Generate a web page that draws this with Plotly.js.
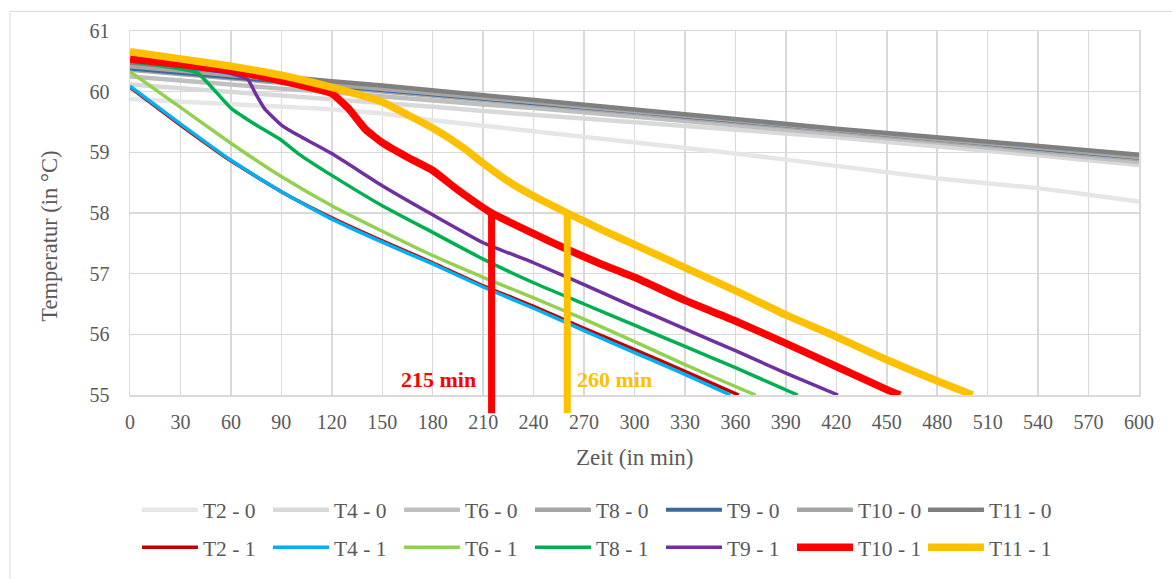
<!DOCTYPE html>
<html>
<head>
<meta charset="utf-8">
<script src="https://cdn.plot.ly/plotly-3.0.1.min.js"></script>
<style>html,body{margin:0;padding:0;background:#fff;}#chart{width:1172px;height:579px;}</style>
</head>
<body>
<div id="chart"></div>
<script>
// ---- data (time in min, temperature in °C) ----
const timeBase = [0,30,60,90,120,150,180,210,240,270,300,330,360,390,420,450,480,510,540,570,600];
const T2_0  = [59.88,59.84,59.80,59.76,59.71,59.64,59.53,59.44,59.35,59.25,59.16,59.07,58.98,58.88,58.78,58.67,58.57,58.49,58.41,58.30,58.19];
const T4_0  = [60.12,60.06,60.00,59.94,59.88,59.81,59.75,59.68,59.62,59.55,59.49,59.43,59.37,59.31,59.25,59.17,59.10,59.02,58.95,58.87,58.79];
const T6_0  = [60.25,60.18,60.12,60.05,59.99,59.92,59.86,59.79,59.73,59.66,59.59,59.52,59.45,59.38,59.31,59.23,59.16,59.08,59.00,58.92,58.84];
const T8_0  = [60.36,60.29,60.22,60.15,60.08,60.01,59.94,59.87,59.80,59.72,59.65,59.57,59.50,59.42,59.35,59.27,59.20,59.12,59.04,58.96,58.89];
const T9_0  = [60.38,60.31,60.24,60.17,60.10,60.03,59.96,59.89,59.82,59.74,59.67,59.59,59.52,59.44,59.37,59.29,59.22,59.14,59.06,58.98,58.91];
const T10_0 = [60.42,60.35,60.27,60.20,60.12,60.05,59.97,59.90,59.83,59.75,59.68,59.60,59.53,59.45,59.37,59.30,59.22,59.15,59.07,59.00,58.92];
const T11_0 = [60.48,60.40,60.33,60.25,60.17,60.10,60.02,59.94,59.86,59.79,59.71,59.63,59.55,59.47,59.39,59.32,59.25,59.17,59.10,59.03,58.96];

const T2_1_t  = [0,30,60,90,120,150,180,210,240,270,300,330,362];
const T2_1    = [60.07,59.45,58.86,58.35,57.92,57.54,57.18,56.80,56.46,56.10,55.75,55.39,55.00];
const T4_1_t  = [0,30,60,90,120,150,180,210,240,270,300,330,357];
const T4_1    = [60.09,59.47,58.87,58.35,57.90,57.52,57.16,56.78,56.43,56.06,55.70,55.34,55.00];
const T6_1_t  = [0,30,60,90,120,150,180,210,240,270,300,330,360,372];
const T6_1    = [60.33,59.74,59.15,58.60,58.12,57.70,57.30,56.94,56.60,56.25,55.88,55.50,55.14,55.00];
const T8_1_t  = [0,20,40,50,60,75,90,100,120,150,180,210,240,270,300,330,360,397];
const T8_1    = [60.50,60.42,60.31,60.03,59.73,59.45,59.20,58.98,58.62,58.12,57.68,57.24,56.85,56.50,56.15,55.80,55.45,55.00];
const T9_1_t  = [0,30,60,70,75,80,90,100,120,150,180,210,240,270,300,330,360,390,421];
const T9_1    = [60.52,60.42,60.30,60.20,59.95,59.72,59.45,59.28,58.98,58.45,57.97,57.51,57.18,56.82,56.45,56.09,55.73,55.36,55.00];
const T10_1_t = [0,30,60,90,110,120,130,140,150,165,180,195,215,240,260,280,300,330,360,390,420,450,458];
const T10_1   = [60.54,60.45,60.35,60.18,60.05,59.97,59.72,59.38,59.16,58.92,58.70,58.38,58.00,57.66,57.40,57.16,56.94,56.56,56.22,55.85,55.47,55.09,55.00];
const T11_1_t = [0,30,60,90,120,150,165,180,198,210,225,240,260,280,300,330,360,390,420,450,480,501];
const T11_1   = [60.66,60.54,60.42,60.27,60.07,59.83,59.62,59.40,59.08,58.82,58.52,58.28,58.00,57.73,57.48,57.10,56.72,56.32,55.96,55.58,55.23,55.00];

const markerTimes  = [215, 260];
const markerTemps  = [58, 58];
const markerLabels = ["215 min", "260 min"];

const xTicks = [0,30,60,90,120,150,180,210,240,270,300,330,360,390,420,450,480,510,540,570,600];
const yTicks = [55,56,57,58,59,60,61];

// ---- styles ----
const FONT = "Liberation Serif, Times New Roman, serif";
const GREY_TXT = "#595959";
const GRID = "#d9d9d9";
const markerColors = ["#ff0000", "#ffc000"];

function tr(name, x, y, color, width, legend, smooth) {
  const line = {color: color, width: width};
  if (smooth) { line.shape = "spline"; line.smoothing = 0.45; }
  return {type: "scatter", mode: "lines", name: name, x: x, y: y,
          line: line, legend: legend, hoverinfo: "skip"};
}

const traces = [
  tr("T2 - 0",  timeBase, T2_0,  "#e6e6e6", 4.5, "legend"),
  tr("T4 - 0",  timeBase, T4_0,  "#d9d9d9", 4.5, "legend"),
  tr("T6 - 0",  timeBase, T6_0,  "#bfbfbf", 4.5, "legend"),
  tr("T8 - 0",  timeBase, T8_0,  "#a6a6a6", 4.5, "legend"),
  tr("T9 - 0",  timeBase, T9_0,  "#3b6a9c", 4.0, "legend"),
  tr("T10 - 0", timeBase, T10_0, "#a5a5a5", 4.5, "legend"),
  tr("T11 - 0", timeBase, T11_0, "#7f7f7f", 4.5, "legend"),
  tr("T2 - 1",  T2_1_t,  T2_1,  "#c00000", 3.5, "legend2", true),
  tr("T4 - 1",  T4_1_t,  T4_1,  "#00b0f0", 3.5, "legend2", true),
  tr("T6 - 1",  T6_1_t,  T6_1,  "#92d050", 3.5, "legend2", true),
  tr("T8 - 1",  T8_1_t,  T8_1,  "#00b050", 3.5, "legend2", true),
  tr("T9 - 1",  T9_1_t,  T9_1,  "#7030a0", 3.5, "legend2", true),
  tr("T10 - 1", T10_1_t, T10_1, "#ff0000", 7.5, "legend2", true),
  tr("T11 - 1", T11_1_t, T11_1, "#ffc000", 7.5, "legend2", true)
];

const shapes = [
  // outer chart-area frame
  {type: "rect", xref: "paper", yref: "paper", x0: -0.119, x1: 1.2, y0: -0.6, y1: 1.054,
   line: {color: "#d9d9d9", width: 1}, layer: "below"}
];
const annotations = [
  {xref: "paper", yref: "paper", x: 0.5, y: -0.171, text: "Zeit (in min)", showarrow: false,
   xanchor: "center", yanchor: "middle", font: {family: FONT, size: 23, color: GREY_TXT}},
  {xref: "paper", yref: "paper", x: -0.0793, y: 0.4375, text: "Temperatur (in °C)", showarrow: false,
   textangle: -90, xanchor: "center", yanchor: "middle", font: {family: FONT, size: 22.5, color: GREY_TXT}}
];
markerTimes.forEach((t, i) => {
  shapes.push({type: "line", xref: "x", yref: "y", x0: t, x1: t, y0: yTicks[0], y1: markerTemps[i],
               line: {color: markerColors[i], width: 7}, layer: "above"});
  shapes.push({type: "line", xref: "x", yref: "y domain", x0: t, x1: t, y0: -0.05, y1: 0,
               line: {color: markerColors[i], width: 7}, layer: "above"});
  annotations.push({xref: "x", yref: "y", x: i === 0 ? t - 8 : t + 4.5, y: 55.26,
                    xanchor: i === 0 ? "right" : "left", yanchor: "middle",
                    text: markerLabels[i], showarrow: false,
                    font: {family: FONT, size: 22, color: markerColors[i], weight: "bold"}});
});

const legendBase = {orientation: "h", xref: "paper", yref: "paper", x: 0.0069, xanchor: "left",
  yanchor: "middle", font: {family: FONT, size: 21.5, color: GREY_TXT}, bgcolor: "rgba(0,0,0,0)",
  entrywidth: 60, entrywidthmode: "pixels", itemwidth: 56, traceorder: "normal"};

const layout = {
  width: 1172, height: 579,
  margin: {l: 130, r: 33, t: 31, b: 180, pad: 0},
  paper_bgcolor: "#ffffff", plot_bgcolor: "#ffffff",
  showlegend: true,
  legend: Object.assign({}, legendBase, {y: -0.3154}),
  legend2: Object.assign({}, legendBase, {y: -0.418}),
  xaxis: {range: [0, 600], tickvals: xTicks, ticktext: xTicks.map(String), showgrid: true,
          gridcolor: GRID, gridwidth: 1.5, zeroline: false, showline: true, linecolor: GRID,
          linewidth: 1.5, mirror: true, ticks: "", ticklabelstandoff: 8,
          tickfont: {family: FONT, size: 20, color: GREY_TXT}, fixedrange: true},
  yaxis: {range: [55, 61], tickvals: yTicks, ticktext: yTicks.map(String), showgrid: true,
          gridcolor: GRID, gridwidth: 1.5, zeroline: false, showline: true, linecolor: GRID,
          linewidth: 1.5, mirror: true, ticks: "", ticklabelstandoff: 15,
          tickfont: {family: FONT, size: 20, color: GREY_TXT}, fixedrange: true},
  shapes: shapes,
  annotations: annotations
};

Plotly.newPlot("chart", traces, layout, {displayModeBar: false, staticPlot: true});
</script>
</body>
</html>
